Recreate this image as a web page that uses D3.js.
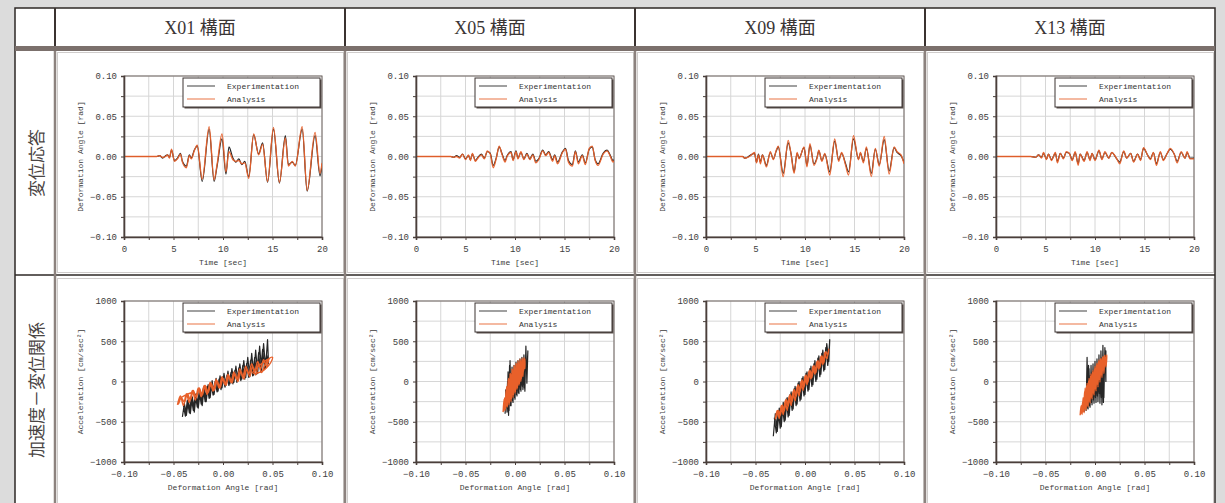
<!DOCTYPE html>
<html>
<head>
<meta charset="utf-8">
<script src="https://cdn.jsdelivr.net/npm/d3@7"></script>
<style>
  body { margin: 0; background: #dcdcdc; }
  svg { display: block; }
</style>
</head>
<body>
<div id="chart-area"></div>
<script>
// Labels
var frames = ["X01 構面", "X05 構面", "X09 構面", "X13 構面"];
var rowLabels = ["変位応答", "加速度－変位関係"];
var legendLabels = ["Experimentation", "Analysis"];

// Grid / tick values
var timeGrid = [0, 2.5, 5, 7.5, 10, 12.5, 15, 17.5, 20];
var timeMajor = [0, 5, 10, 15, 20];
var angleGrid = [-0.1, -0.075, -0.05, -0.025, 0, 0.025, 0.05, 0.075, 0.1];
var angleMajor = [-0.1, -0.05, 0, 0.05, 0.1];
var accelGrid = [-1000, -750, -500, -250, 0, 250, 500, 750, 1000];
var accelMajor = [-1000, -500, 0, 500, 1000];

// Displacement response (time [sec], angle [rad])
var timeX01 = [0,3.3,3.6,3.9,4.2,4.4,4.6,4.8,5.1,5.4, 5.7,5.9,6.3,6.6,6.8,7.1,7.4,7.9,8.6,9.1, 9.4,9.9,10.3,10.6,11.0,11.3,11.6,11.9,12.2,12.6, 13.1,13.6,14.0,14.5,15.1,15.7,16.3,16.6,17.0,17.3, 18.0,18.5,19.3,19.8,20];
var expX01 = [0,0,0.001,-0.002,0.001,0.002,-0.001,0.008,-0.005,-0.002, 0.004,-0.006,-0.012,0.002,-0.002,0.008,0.013,-0.031,0.034,-0.031, -0.012,0.022,-0.022,0.012,-0.002,-0.007,-0.003,-0.010,-0.006,-0.025, 0.027,0.003,0.017,-0.032,0.034,-0.033,0.026,-0.010,-0.007,-0.011, 0.034,-0.043,0.026,-0.024,-0.010];
var anaX01 = [0,0,0.001,-0.001,0.000,0.002,-0.002,0.009,-0.006,-0.003, 0.003,-0.007,-0.014,0.001,-0.003,0.007,0.014,-0.028,0.037,-0.029, -0.010,0.028,-0.019,0.006,-0.004,-0.006,-0.005,-0.009,-0.008,-0.027, 0.028,0.002,0.015,-0.031,0.036,-0.032,0.023,-0.012,-0.006,-0.012, 0.037,-0.042,0.030,-0.021,-0.008];

var timeX05 = [0,3.5,3.8,4.1,4.4,4.7,5.0,5.3,5.5,5.7, 6.0,6.2,6.6,6.9,7.2,7.5,7.8,8.1,8.4,8.7, 9.0,9.2,9.6,9.8,10.1,10.3,10.6,10.9,11.2,11.5, 11.8,12.1,12.4,12.8,13.1,13.4,13.8,14.0,14.3,14.8, 15.1,15.4,15.8,16.1,16.4,16.8,17.1,17.5,17.8,18.1, 18.4,18.9,19.3,19.6,19.9,20];
var expX05 = [0,0,-0.001,0.001,-0.001,0.003,-0.003,0.001,-0.004,0.003, -0.005,-0.002,0.003,-0.002,0.006,0.004,-0.011,-0.002,0.012,0.003, -0.005,0.001,0.006,-0.004,0.007,-0.002,0.005,-0.003,0.004,-0.003, 0.003,-0.006,-0.003,0.008,0.002,0.006,-0.004,0.002,-0.007,0.006, 0.010,-0.005,-0.010,0.007,-0.007,0.002,-0.008,0.009,0.012,-0.004, -0.009,0.004,0.008,0.002,-0.005,-0.004];
var anaX05 = [0,0,-0.001,0.000,-0.002,0.003,-0.004,0.002,-0.005,0.004, -0.006,-0.003,0.002,-0.003,0.007,0.003,-0.014,-0.003,0.013,0.002, -0.007,0.000,0.005,-0.005,0.006,-0.003,0.006,-0.004,0.003,-0.004, 0.002,-0.008,-0.004,0.007,0.001,0.005,-0.006,0.001,-0.009,0.005, 0.009,-0.007,-0.012,0.006,-0.009,0.001,-0.010,0.010,0.013,-0.005, -0.011,0.003,0.007,0.001,-0.007,-0.005];

var timeX09 = [0,3.7,3.9,4.2,4.5,4.9,5.1,5.3,5.5,5.7, 6.1,6.5,6.8,7.1,7.3,7.8,8.3,8.6,8.9,9.2, 9.4,9.9,10.2,10.5,10.9,11.2,11.4,11.7,12.0,12.5, 13.0,13.4,13.7,14.1,14.4,14.9,15.4,15.6,15.9,16.2, 16.7,17.1,17.5,18.0,18.5,19.0,19.3,19.7,20];
var expX09 = [0,0,-0.002,-0.001,0.002,0.004,-0.007,0.003,-0.007,0.002, -0.011,0.005,-0.003,0.007,0.012,-0.021,0.017,0.003,-0.019,0.004, -0.002,0.011,-0.011,0.014,-0.009,-0.002,0.007,-0.005,0.003,-0.019, 0.019,-0.004,0.004,-0.009,-0.019,0.022,-0.003,0.004,-0.006,0.010, -0.021,0.009,-0.010,0.021,-0.018,0.011,0.005,0.001,-0.007];
var anaX09 = [0,0,-0.002,-0.001,0.001,0.005,-0.008,0.002,-0.009,0.002, -0.013,0.006,-0.004,0.008,0.013,-0.025,0.020,0.002,-0.021,0.005, -0.003,0.012,-0.013,0.016,-0.011,-0.003,0.008,-0.006,0.004,-0.023, 0.022,-0.006,0.005,-0.011,-0.023,0.026,-0.004,0.005,-0.008,0.012, -0.025,0.010,-0.012,0.025,-0.022,0.012,0.006,0.002,-0.009];

var timeX13 = [0,3.5,4.0,4.3,4.6,4.8,5.1,5.3,5.6,6.0, 6.2,6.5,6.8,7.1,7.4,7.7,8.0,8.3,8.5,8.9, 9.2,9.5,9.7,10.0,10.4,10.7,11.0,11.4,11.7,12.2, 12.5,12.9,13.2,13.6,13.9,14.3,14.6,14.9,15.3,15.6, 15.9,16.2,16.6,16.9,17.3,17.6,18.0,18.3,18.7,19.1, 19.3,19.6,20];
var expX13 = [0,0,-0.001,0.002,-0.001,0.004,-0.003,0.003,-0.004,0.004, -0.006,0.004,-0.002,0.005,0.004,-0.004,0.005,-0.009,0.003,-0.005, 0.005,-0.004,0.004,-0.004,0.007,-0.003,0.005,-0.002,0.005,-0.003, -0.007,0.006,-0.002,0.004,-0.006,0.003,-0.004,0.010,0.002,-0.003, 0.005,-0.009,0.005,-0.004,0.004,0.009,0.003,-0.006,0.005,-0.002, 0.005,-0.002,-0.002];
var anaX13 = [0,0,-0.001,0.002,-0.002,0.005,-0.004,0.003,-0.005,0.005, -0.008,0.004,-0.003,0.006,0.004,-0.005,0.006,-0.011,0.003,-0.006, 0.006,-0.005,0.004,-0.005,0.008,-0.004,0.006,-0.002,0.005,-0.003, -0.009,0.007,-0.002,0.004,-0.007,0.003,-0.005,0.011,0.002,-0.004, 0.005,-0.011,0.006,-0.005,0.004,0.010,0.003,-0.008,0.006,-0.002, 0.006,-0.003,-0.003];

// Acceleration - displacement traces ([angle rad, accel cm/sec2])
var loopExpX01 = [[-0.041,-440],[-0.039,-270],[-0.037,-420],[-0.035,-240],[-0.033,-400],[-0.031,-190],[-0.029,-380],[-0.027,-150],[-0.025,-330],[-0.023,-110],[-0.021,-300],[-0.019,-70],[-0.017,-250],[-0.015,-40],[-0.013,-200],[-0.011,10],[-0.009,-160],[-0.007,40],[-0.005,-120],[-0.003,70],[-0.001,-80],[0.001,100],[0.003,-50],[0.005,130],[0.007,-30],[0.009,160],[0.011,-10],[0.013,190],[0.015,10],[0.017,220],[0.019,30],[0.021,260],[0.023,50],[0.025,300],[0.027,60],[0.029,350],[0.031,80],[0.033,390],[0.035,100],[0.037,440],[0.039,130],[0.041,470],[0.043,170],[0.045,520],[0.046,220],
    [0.044,330],[0.042,160],[0.040,400],[0.038,120],[0.036,360],[0.034,90],[0.032,300],[0.030,70],[0.028,270],[0.026,50],[0.024,230],[0.022,30],[0.020,200],[0.018,10],[0.016,170],[0.014,-10],[0.012,140],[0.010,-30],[0.008,110],[0.006,-50],[0.004,80],[0.002,-70],[0,60],[-0.002,-100],[-0.004,30],[-0.006,-130],[-0.008,0],[-0.010,-170],[-0.012,-30],[-0.014,-210],[-0.016,-60],[-0.018,-250],[-0.020,-90],[-0.022,-280],[-0.024,-120],[-0.026,-320],[-0.028,-160],[-0.030,-360],[-0.032,-200],[-0.034,-390],[-0.036,-230],[-0.038,-430],[-0.040,-300]];
var loopAnaX01 = [[-0.046,-290],[-0.043,-180],[-0.040,-300],[-0.037,-150],[-0.034,-260],[-0.031,-110],[-0.028,-230],[-0.025,-80],[-0.022,-190],[-0.019,-50],[-0.016,-160],[-0.013,-10],[-0.010,-120],[-0.007,30],[-0.004,-80],[-0.001,60],[0.002,-40],[0.005,90],[0.008,-10],[0.011,120],[0.014,20],[0.017,160],[0.020,50],[0.023,190],[0.026,90],[0.029,220],[0.032,120],[0.035,250],[0.038,160],[0.041,270],[0.044,190],[0.047,290],[0.050,300],[0.048,230],[0.044,170],[0.040,130],[0.036,110],[0.032,100],[0.030,110],[0.034,170],[0.040,230],[0.046,280],
    [0.042,200],[0.039,110],[0.036,220],[0.033,80],[0.030,190],[0.027,60],[0.024,160],[0.021,30],[0.018,130],[0.015,0],[0.012,100],[0.009,-20],[0.006,70],[0.003,-50],[0,40],[-0.003,-80],[-0.006,10],[-0.009,-110],[-0.012,-20],[-0.015,-140],[-0.018,-50],[-0.021,-170],[-0.024,-80],[-0.027,-200],[-0.030,-110],[-0.033,-230],[-0.036,-150],[-0.039,-260],[-0.042,-200],[-0.045,-280],[-0.044,-220],[-0.038,-170],[-0.030,-130]];

var loopExpX05 = [[-0.010,-400],[-0.009,-180],[-0.008,-380],[-0.007,120],[-0.006,-360],[-0.005,260],[-0.004,-300],[-0.003,180],[-0.002,-260],[-0.001,200],[0,-220],[0.001,240],[0.002,-180],[0.003,260],[0.004,-150],[0.005,280],[0.006,-120],[0.007,300],[0.008,-100],[0.009,330],[0.010,-120],[0.011,440],[0.012,-20],[0.013,380],[0.012,100],
    [0.0105,280],[0.0095,-80],[0.0085,250],[0.0075,-60],[0.0065,200],[0.0055,-100],[0.0045,220],[0.0035,-140],[0.0025,180],[0.0015,-160],[0.0005,150],[-0.0005,-200],[-0.0015,120],[-0.0025,-240],[-0.0035,100],[-0.0045,-300],[-0.0055,200],[-0.0065,-420],[-0.0075,0],[-0.0085,-300],[-0.0095,-100]];
var loopAnaX05 = [[-0.012,-380],[-0.011,-220],[-0.010,-360],[-0.009,-100],[-0.008,-320],[-0.007,20],[-0.006,-290],[-0.005,100],[-0.004,-250],[-0.003,160],[-0.002,-200],[-0.001,200],[0,-150],[0.001,230],[0.002,-100],[0.003,260],[0.004,-50],[0.005,280],[0.006,0],[0.007,290],[0.008,60],[0.009,300],[0.010,160],[0.010,280],
    [0.0085,120],[0.0075,280],[0.0065,30],[0.0055,260],[0.0045,-30],[0.0035,240],[0.0025,-80],[0.0015,220],[0.0005,-130],[-0.0005,190],[-0.0015,-170],[-0.0025,150],[-0.0035,-220],[-0.0045,100],[-0.0055,-270],[-0.0065,40],[-0.0075,-310],[-0.0085,-60],[-0.0095,-340],[-0.0105,-200],[-0.0115,-370]];

var loopExpX09 = [[-0.032,-680],[-0.030,-400],[-0.028,-620],[-0.026,-330],[-0.024,-560],[-0.022,-260],[-0.020,-480],[-0.018,-200],[-0.016,-420],[-0.014,-130],[-0.012,-340],[-0.010,-60],[-0.008,-280],[-0.006,0],[-0.004,-220],[-0.002,60],[0,-160],[0.002,120],[0.004,-100],[0.006,190],[0.008,-40],[0.010,260],[0.012,30],[0.014,320],[0.016,90],[0.018,390],[0.020,150],[0.022,470],[0.024,250],[0.025,520],[0.024,330],
    [0.023,200],[0.021,420],[0.019,130],[0.017,350],[0.015,60],[0.013,290],[0.011,0],[0.009,220],[0.007,-60],[0.005,160],[0.003,-120],[0.001,100],[-0.001,-180],[-0.003,40],[-0.005,-240],[-0.007,-20],[-0.009,-300],[-0.011,-90],[-0.013,-360],[-0.015,-160],[-0.017,-440],[-0.019,-220],[-0.021,-500],[-0.023,-300],[-0.025,-580],[-0.027,-360],[-0.029,-640],[-0.031,-450]];
var loopAnaX09 = [[-0.030,-470],[-0.028,-360],[-0.026,-460],[-0.024,-300],[-0.022,-410],[-0.020,-240],[-0.018,-360],[-0.016,-180],[-0.014,-300],[-0.012,-120],[-0.010,-240],[-0.008,-60],[-0.006,-180],[-0.004,0],[-0.002,-110],[0,70],[0.002,-40],[0.004,130],[0.006,30],[0.008,190],[0.010,90],[0.012,250],[0.014,150],[0.016,310],[0.018,210],[0.020,360],[0.022,280],[0.024,400],[0.023,330],
    [0.021,370],[0.019,230],[0.017,320],[0.015,170],[0.013,260],[0.011,110],[0.009,200],[0.007,50],[0.005,140],[0.003,-10],[0.001,80],[-0.001,-70],[-0.003,20],[-0.005,-130],[-0.007,-40],[-0.009,-190],[-0.011,-100],[-0.013,-250],[-0.015,-160],[-0.017,-310],[-0.019,-220],[-0.021,-370],[-0.023,-290],[-0.025,-420],[-0.027,-360],[-0.029,-450]];

var loopExpX13 = [[-0.011,-380],[-0.010,-150],[-0.009,-360],[-0.008,300],[-0.007,-340],[-0.006,160],[-0.005,-320],[-0.004,200],[-0.003,-290],[-0.002,220],[-0.001,-270],[0,250],[0.001,-260],[0.002,280],[0.003,-250],[0.004,330],[0.005,-270],[0.006,380],[0.007,-290],[0.008,450],[0.009,-200],[0.010,420],[0.011,0],[0.011,380],
    [0.0095,100],[0.0085,-260],[0.0075,300],[0.0065,-200],[0.0055,260],[0.0045,-150],[0.0035,220],[0.0025,-180],[0.0015,180],[0.0005,-200],[-0.0005,140],[-0.0015,-230],[-0.0025,120],[-0.0035,-260],[-0.0045,80],[-0.0055,-300],[-0.0065,200],[-0.0075,-330],[-0.0085,-80],[-0.0095,-300],[-0.0105,-200]];
var loopAnaX13 = [[-0.015,-420],[-0.014,-300],[-0.013,-410],[-0.012,-200],[-0.011,-390],[-0.010,-80],[-0.009,-360],[-0.008,-20],[-0.007,-320],[-0.006,40],[-0.005,-270],[-0.004,100],[-0.003,-220],[-0.002,140],[-0.001,-170],[0,190],[0.001,-120],[0.002,230],[0.003,-70],[0.004,270],[0.005,-10],[0.006,290],[0.007,50],[0.008,310],[0.009,100],[0.010,330],[0.011,180],[0.012,330],
    [0.0105,230],[0.0095,320],[0.0085,150],[0.0075,300],[0.0065,80],[0.0055,280],[0.0045,20],[0.0035,250],[0.0025,-40],[0.0015,210],[0.0005,-100],[-0.0005,160],[-0.0015,-150],[-0.0025,120],[-0.0035,-200],[-0.0045,70],[-0.0055,-250],[-0.0065,10],[-0.0075,-300],[-0.0085,-50],[-0.0095,-340],[-0.0105,-120],[-0.0115,-380],[-0.0125,-250],[-0.0135,-400]];

var timeSeries = [
    { t: timeX01, exp: expX01, ana: anaX01 },
    { t: timeX05, exp: expX05, ana: anaX05 },
    { t: timeX09, exp: expX09, ana: anaX09 },
    { t: timeX13, exp: expX13, ana: anaX13 }
];
var loops = [
    { exp: loopExpX01, ana: loopAnaX01 },
    { exp: loopExpX05, ana: loopAnaX05 },
    { exp: loopExpX09, ana: loopAnaX09 },
    { exp: loopExpX13, ana: loopAnaX13 }
];

var W = 1225, H = 503;
var colX = [55, 345, 635, 925];
var plotLeft = [124, 416, 706, 996];
var plotW = 198, plotH = 161;
var rowTop = [76, 301];

var expColor = "#262626", anaColor = "#e8602a";
var monoFont = "'Liberation Mono', 'DejaVu Sans Mono', monospace";

var svg = d3.select("#chart-area")
    .append("svg")
    .attr("width", W)
    .attr("height", H);

svg.append("rect").attr("width", W).attr("height", H).attr("fill", "#dcdcdc");

// Table
svg.append("rect")
    .attr("x", 15).attr("y", 8)
    .attr("width", 1200).attr("height", H)
    .attr("fill", "#fff")
    .attr("stroke", "#2e2826")
    .attr("stroke-width", 1.5);

// chart image frames
[52, 278].forEach(function(top, r) {
    colX.forEach(function(cx) {
        svg.append("rect")
            .attr("x", cx + 2.5).attr("y", top + 0.5)
            .attr("width", 286).attr("height", r == 0 ? 220 : 240)
            .attr("fill", "none")
            .attr("stroke", "#cfcccb");
    });
});

svg.append("rect")
    .attr("x", 15).attr("y", 46)
    .attr("width", 1200).attr("height", 5)
    .attr("fill", "#7b706c");

svg.append("line")
    .attr("x1", 15).attr("x2", 1215)
    .attr("y1", 275).attr("y2", 275)
    .attr("stroke", "#2e2826").attr("stroke-width", 1.5);

colX.forEach(function(cx) {
    svg.append("line")
        .attr("x1", cx).attr("x2", cx)
        .attr("y1", 8).attr("y2", 46)
        .attr("stroke", "#3b3330").attr("stroke-width", 2);
    svg.append("line")
        .attr("x1", cx).attr("x2", cx)
        .attr("y1", 51).attr("y2", H)
        .attr("stroke", "#8c827e").attr("stroke-width", 2.5);
});

// Header texts
frames.forEach(function(f, i) {
    svg.append("text")
        .attr("x", colX[i] + 145)
        .attr("y", 34)
        .attr("text-anchor", "middle")
        .attr("font-family", "'Liberation Serif', 'Noto Sans CJK JP', serif")
        .attr("font-size", "18px")
        .attr("fill", "#3a3534")
        .text(f);
});

// Row labels, read bottom to top
[163, 390].forEach(function(cy, i) {
    svg.append("text")
        .attr("transform", "translate(35," + cy + ") rotate(-90)")
        .attr("text-anchor", "middle")
        .attr("dominant-baseline", "central")
        .attr("font-family", "'Noto Sans CJK JP', sans-serif")
        .attr("font-size", "17px")
        .attr("fill", "#4a4544")
        .text(rowLabels[i]);
});

function fmtAngle(d) { return d3.format(".2f")(d); }
function fmtAccel(d) { return d3.format("d")(d); }

function drawPanel(left, top, xDom, yDom, xGrid, xMajor, yGrid, yMajor, xFmt, yFmt, xTitle, yTitle, series, isLoop, id) {
    var g = svg.append("g").attr("transform", "translate(" + left + "," + top + ")");
    var x = d3.scaleLinear().domain(xDom).range([0, plotW]);
    var y = d3.scaleLinear().domain(yDom).range([plotH, 0]);

    g.append("clipPath").attr("id", id)
        .append("rect").attr("width", plotW).attr("height", plotH);

    // grid
    g.selectAll(".vgrid").data(xGrid).enter().append("line")
        .attr("x1", function(d){ return x(d); }).attr("x2", function(d){ return x(d); })
        .attr("y1", 0).attr("y2", plotH)
        .attr("stroke", "#d6d6d6").attr("stroke-width", 1);
    g.selectAll(".hgrid").data(yGrid).enter().append("line")
        .attr("x1", 0).attr("x2", plotW)
        .attr("y1", function(d){ return y(d); }).attr("y2", function(d){ return y(d); })
        .attr("stroke", "#d6d6d6").attr("stroke-width", 1);

    g.append("rect")
        .attr("width", plotW).attr("height", plotH)
        .attr("fill", "none").attr("stroke", "#6f6461").attr("stroke-width", 1);

    // data
    var pg = g.append("g").attr("clip-path", "url(#" + id + ")");
    var line = d3.line()
        .x(function(d){ return x(d[0]); })
        .y(function(d){ return y(d[1]); });
    if (isLoop) {
        pg.append("path")
            .attr("d", line.curve(d3.curveLinear)(series.exp))
            .attr("fill", "none").attr("stroke", expColor).attr("stroke-width", 1.2)
            .attr("stroke-linejoin", "round");
        pg.append("path")
            .attr("d", line.curve(d3.curveCatmullRom.alpha(0.5))(series.ana))
            .attr("fill", "none").attr("stroke", anaColor).attr("stroke-width", 1.4)
            .attr("stroke-linejoin", "round");
    } else {
        var expPts = series.t.map(function(t, i){ return [t, series.exp[i]]; });
        var anaPts = series.t.map(function(t, i){ return [t, series.ana[i]]; });
        line.curve(d3.curveMonotoneX);
        pg.append("path").attr("d", line(expPts))
            .attr("fill", "none").attr("stroke", expColor).attr("stroke-width", 1.2);
        pg.append("path").attr("d", line(anaPts))
            .attr("fill", "none").attr("stroke", anaColor).attr("stroke-width", 1.3)
            .attr("stroke-opacity", 0.95);
    }

    // axes
    var xAxisCall = d3.axisBottom(x).tickValues(xGrid).tickSize(3).tickPadding(6)
        .tickFormat(function(d){ return xMajor.indexOf(d) >= 0 ? xFmt(d) : ""; });
    var yAxisCall = d3.axisLeft(y).tickValues(yGrid).tickSize(3).tickPadding(4)
        .tickFormat(function(d){ return yMajor.indexOf(d) >= 0 ? yFmt(d) : ""; });
    var xAxis = g.append("g").attr("transform", "translate(0," + plotH + ")").call(xAxisCall);
    var yAxis = g.append("g").call(yAxisCall);
    [xAxis, yAxis].forEach(function(a) {
        a.select(".domain").attr("stroke", "#4a3f3b").attr("stroke-width", 1.6);
        a.selectAll(".tick line").attr("stroke", "#4a3f3b");
        a.selectAll(".tick text")
            .attr("font-family", monoFont)
            .attr("font-size", "9px")
            .attr("fill", "#3c3c3c");
    });

    g.append("text")
        .attr("x", plotW / 2).attr("y", plotH + 28)
        .attr("text-anchor", "middle")
        .attr("font-family", monoFont).attr("font-size", "8px")
        .attr("fill", "#3c3c3c")
        .text(xTitle);
    g.append("text")
        .attr("transform", "rotate(-90)")
        .attr("x", -plotH / 2).attr("y", -41)
        .attr("text-anchor", "middle")
        .attr("font-family", monoFont).attr("font-size", "8px")
        .attr("fill", "#3c3c3c")
        .text(yTitle);

    // legend
    var lg = g.append("g").attr("transform", "translate(59,2)");
    var lw = plotW - 61, lh = 29;
    lg.append("rect").attr("x", 1.5).attr("y", 1.5).attr("width", lw).attr("height", lh)
        .attr("fill", "#5a504c");
    lg.append("rect").attr("width", lw).attr("height", lh)
        .attr("fill", "#fff").attr("stroke", "#3d3533").attr("stroke-width", 1);
    [expColor, anaColor].forEach(function(c, i) {
        lg.append("line")
            .attr("x1", 4).attr("x2", 32)
            .attr("y1", 8 + i * 13).attr("y2", 8 + i * 13)
            .attr("stroke", c).attr("stroke-width", 1.6)
            .attr("stroke-opacity", 0.55);
        lg.append("text")
            .attr("x", 44).attr("y", 11 + i * 13)
            .attr("font-family", monoFont).attr("font-size", "8px")
            .attr("fill", "#333")
            .text(legendLabels[i]);
    });
}

timeSeries.forEach(function(s, i) {
    drawPanel(plotLeft[i], rowTop[0], [0, 20], [-0.1, 0.1], timeGrid, timeMajor, angleGrid, angleMajor,
        d3.format("d"), fmtAngle, "Time [sec]", "Deformation Angle [rad]", s, false, "clipT" + i);
});
loops.forEach(function(s, i) {
    drawPanel(plotLeft[i], rowTop[1], [-0.1, 0.1], [-1000, 1000], angleGrid, angleMajor, accelGrid, accelMajor,
        fmtAngle, fmtAccel, "Deformation Angle [rad]", "Acceleration [cm/sec\u00b2]", s, true, "clipB" + i);
});
</script>
</body>
</html>
